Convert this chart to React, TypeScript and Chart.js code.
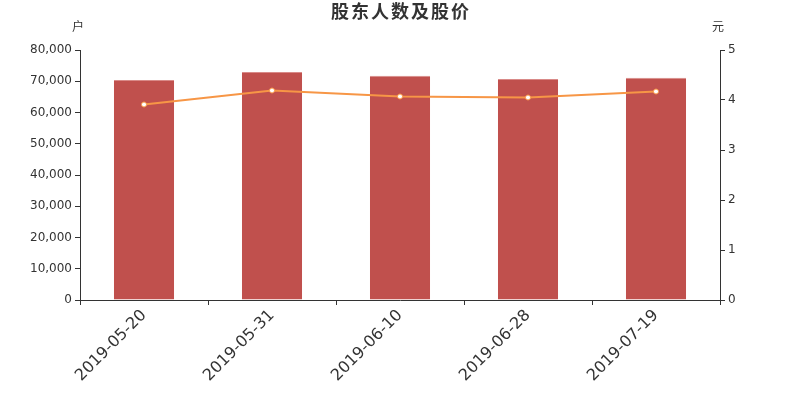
import React, { useEffect, useRef } from "react";
import { Chart, registerables } from "chart.js";

Chart.register(...registerables);

const categories = ["2019-05-20", "2019-05-31", "2019-06-10", "2019-06-28", "2019-07-19"];
const holders = [70400, 73000, 71800, 70700, 71100];
const prices = [3.91, 4.19, 4.07, 4.05, 4.17];
const leftTicks = [0, 10000, 20000, 30000, 40000, 50000, 60000, 70000, 80000];
const rightTicks = [0, 1, 2, 3, 4, 5];
const titleText = "股东人数及股价";
const leftUnit = "户";
const rightUnit = "元";

const FONT = "'DejaVu Sans', 'Noto Sans CJK SC', sans-serif";

const labelsPlugin = {
  id: "extraLabels",
  afterDraw(chart: any) {
    const ctx = chart.ctx;
    const area = chart.chartArea;
    ctx.save();
    ctx.fillStyle = "#333";
    ctx.textAlign = "center";
    ctx.textBaseline = "middle";
    ctx.font = `bold 18px ${FONT}`;
    try {
      (ctx as any).letterSpacing = "2px";
    } catch (e) {}
    ctx.fillText(titleText, chart.width / 2 + 1, 13);
    try {
      (ctx as any).letterSpacing = "0px";
    } catch (e) {}
    ctx.font = `12px ${FONT}`;
    ctx.fillText(leftUnit, area.left - 2, 28);
    ctx.fillText(rightUnit, area.right - 2, 28);
    ctx.restore();
  },
};

export default function App() {
  const ref = useRef<HTMLCanvasElement>(null);
  useEffect(() => {
    document.body.style.margin = "0";
    const chart = new Chart(ref.current!, {
      type: "bar",
      data: {
        labels: categories,
        datasets: [
          {
            type: "line",
            data: prices,
            yAxisID: "y1",
            borderColor: "#f79646",
            borderWidth: 2,
            pointRadius: 2.5,
            pointBackgroundColor: "#ffffff",
            pointBorderColor: "#f79646",
            pointBorderWidth: 1,
            tension: 0,
            order: 0,
          },
          {
            type: "bar",
            data: holders,
            yAxisID: "y",
            backgroundColor: "#c0504d",
            borderColor: "#d98a88",
            borderWidth: { top: 1, left: 0, right: 0, bottom: 0 },
            borderSkipped: "bottom",
            barPercentage: 0.47,
            categoryPercentage: 1,
            order: 1,
          },
        ],
      },
      options: {
        animation: false,
        responsive: false,
        layout: { padding: { top: 50, left: 0, right: 0, bottom: 0 } },
        plugins: { legend: { display: false }, tooltip: { enabled: false } },
        scales: {
          x: {
            offset: true,
            grid: { display: true, drawOnChartArea: false, offset: true, tickLength: 5, color: "#333" },
            border: { display: true, color: "#333" },
            ticks: {
              color: "#333",
              font: { family: FONT, size: 16 },
              minRotation: 45,
              maxRotation: 45,
              padding: 1,
            },
            afterFit(scale: any) {
              scale.height = 100;
            },
          },
          y: {
            position: "left",
            min: 0,
            max: 80000,
            afterBuildTicks(scale: any) {
              scale.ticks = leftTicks.map((v) => ({ value: v }));
            },
            grid: { display: true, drawOnChartArea: false, tickLength: 5, color: "#333" },
            border: { display: true, color: "#333" },
            ticks: {
              color: "#333",
              font: { family: FONT, size: 12 },
              padding: 3,
              callback: (v: any) => Number(v).toLocaleString("en-US"),
            },
            afterFit(scale: any) {
              scale.width = 80;
            },
          },
          y1: {
            position: "right",
            min: 0,
            max: 5,
            afterBuildTicks(scale: any) {
              scale.ticks = rightTicks.map((v) => ({ value: v }));
            },
            grid: { display: true, drawOnChartArea: false, tickLength: 5, color: "#333" },
            border: { display: true, color: "#333" },
            ticks: {
              color: "#333",
              font: { family: FONT, size: 12 },
              padding: 3,
            },
            afterFit(scale: any) {
              scale.width = 80;
            },
          },
        },
      },
      plugins: [labelsPlugin],
    });
    return () => chart.destroy();
  }, []);
  return (
    <div style={{ width: 800, height: 400 }}>
      <canvas ref={ref} width={800} height={400} style={{ display: "block" }} />
    </div>
  );
}
